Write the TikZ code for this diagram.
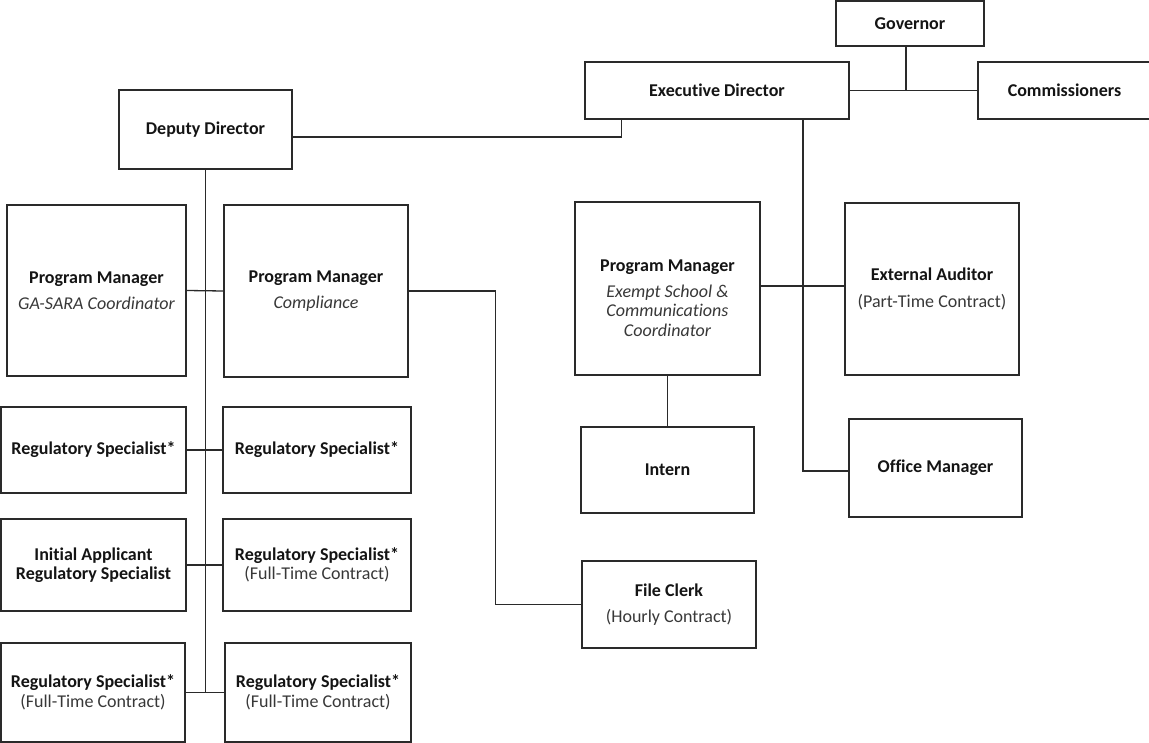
\documentclass[tikz,border=0pt]{standalone}
\usepackage{fontspec}
\setmainfont{Carlito}[Ligatures=NoCommon]
\definecolor{ink}{HTML}{141414}
\definecolor{sub}{HTML}{383838}
\definecolor{edge}{HTML}{2A2A2A}
\begin{document}
\begin{tikzpicture}[x=1pt,y=-1pt,
  box/.style={draw=edge, line width=1.6pt, fill=white, rectangle, inner sep=0pt, align=center,
    font=\fontsize{18}{19.5}\selectfont\bfseries, text=ink},
  link/.style={draw=edge, line width=1.3pt},
]
\useasboundingbox[fill=white] (0,0) rectangle (1149,743);
\newcommand{\subt}[1]{{\mdseries\color{sub}#1}}
\newcommand{\subi}[1]{{\mdseries\itshape\color{sub}#1}}
% top
\node[box, minimum width=148pt, minimum height=45pt] (gov) at (910,23.5) {Governor};
\node[box, minimum width=264pt, minimum height=57pt] (ed) at (717,90.5) {Executive Director};
\node[box, minimum width=173pt, minimum height=57pt] (com) at (1064.5,90.5) {Commissioners};
\node[box, minimum width=173pt, minimum height=79pt] (dd) at (205.5,129.5) {Deputy Director};
% program managers
\node[box, minimum width=179pt, minimum height=171pt] (pm1) at (96.5,290.5) {Program Manager\\[6pt]\subi{GA-SARA Coordinator}};
\node[box, minimum width=184pt, minimum height=172pt] (pm2) at (316,291) {Program Manager\\[6pt]\subi{Compliance}};
\node[box, minimum width=185pt, minimum height=173pt] (pm3) at (667.5,288.5) {\rule{0pt}{31pt}Program Manager\\[6pt]\subi{Exempt School \&}\\\subi{Communications}\\\subi{Coordinator}};
\node[box, minimum width=174pt, minimum height=172pt] (ea) at (932,289) {External Auditor\\[7pt]\subt{(Part-Time Contract)}};
\node[box, minimum width=173pt, minimum height=86pt] (intern) at (667.5,470) {Intern};
\node[box, minimum width=173pt, minimum height=98pt] (om) at (935.5,468) {Office Manager};
\node[box, minimum width=174pt, minimum height=87pt] (fc) at (669,604.5) {File Clerk\\[7pt]\subt{(Hourly Contract)}};
% regulatory specialists
\node[box, minimum width=185pt, minimum height=86pt] (rs1L) at (93.5,450) {Regulatory Specialist*};
\node[box, minimum width=188pt, minimum height=86pt] (rs1R) at (317,450) {Regulatory Specialist*};
\node[box, minimum width=185pt, minimum height=92pt] (rs2L) at (93.5,565) {Initial Applicant\\Regulatory Specialist};
\node[box, minimum width=188pt, minimum height=92pt] (rs2R) at (317,565) {Regulatory Specialist*\\\subt{(Full-Time Contract)}};
\node[box, minimum width=184pt, minimum height=99pt] (rs3L) at (93,692.5) {Regulatory Specialist*\\\subt{(Full-Time Contract)}};
\node[box, minimum width=186pt, minimum height=99pt] (rs3R) at (318,692.5) {Regulatory Specialist*\\\subt{(Full-Time Contract)}};
% connectors
\draw[link] ([xshift=-4pt]gov.south) -- ([xshift=-4pt]gov.south |- ed.east);
\draw[link] (ed.east) -- (com.west);
\draw[link] ([xshift=37pt]ed.south west) |- ([yshift=-7.5pt]dd.east);
\draw[link] (dd.south) -- (dd.south |- rs3L.east);
\draw[link] (pm1.east) -- (pm2.west);
\draw[link] (pm2.east) -- ++(87,0) |- (fc.west);
\draw[link] (rs1L.east) -- (rs1R.west);
\draw[link] (rs2L.east) -- (rs2R.west);
\draw[link] (rs3L.east) -- (rs3R.west);
\draw[link] ([xshift=86pt]ed.south) |- ([yshift=-3pt]om.west);
\draw[link] ([yshift=2.5pt]pm3.east) -- ([yshift=2.5pt]pm3.east -| ea.west);
\draw[link] (pm3.south) -- (intern.north);
\end{tikzpicture}
\end{document}
